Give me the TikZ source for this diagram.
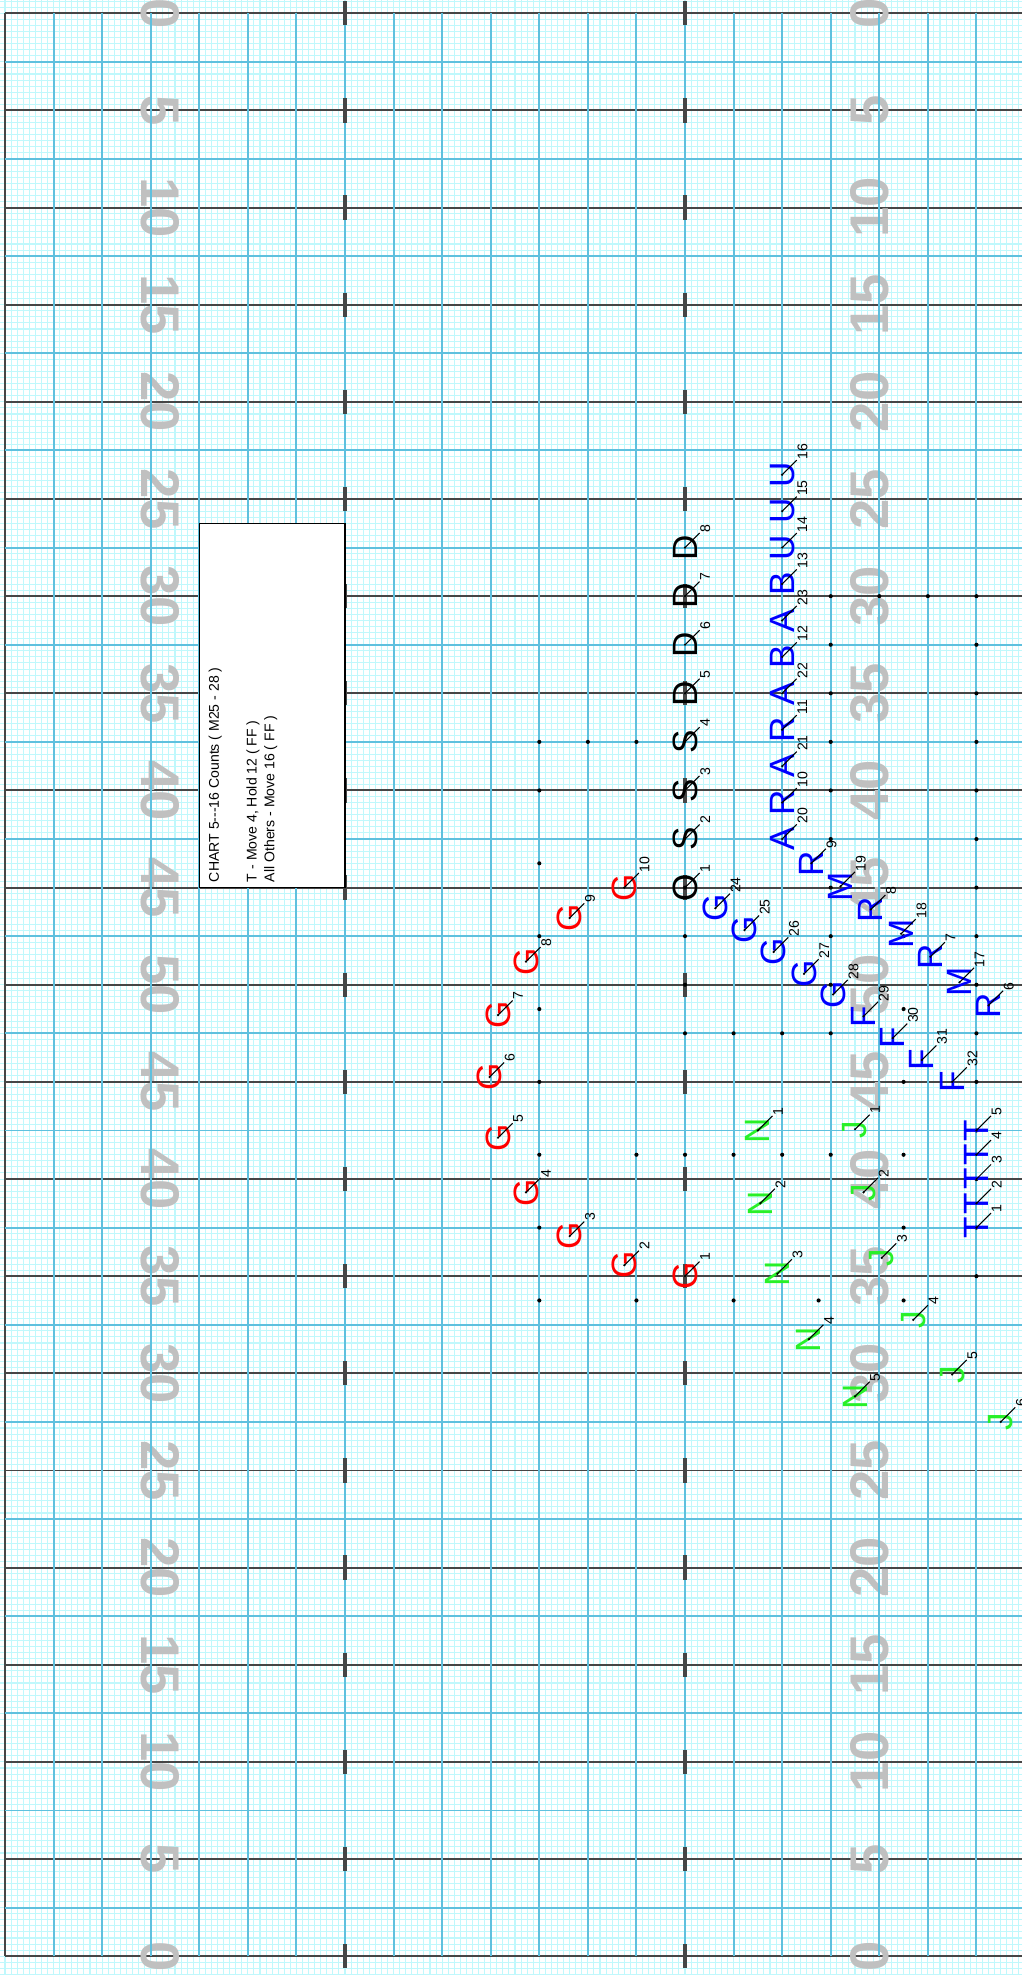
\documentclass[tikz,border=0pt]{standalone}
\usepackage{fontspec}
\newfontfamily\chartfont{Liberation Sans}
\usepackage{xcolor}
\usetikzlibrary{calc}
\definecolor{gridlight}{RGB}{192,248,252}
\definecolor{gridmid}{RGB}{95,192,222}
\definecolor{yardgray}{RGB}{70,70,70}
\definecolor{numgray}{RGB}{192,192,192}
\definecolor{drillred}{RGB}{255,0,0}
\definecolor{drillblue}{RGB}{0,0,255}
\definecolor{drillgreen}{RGB}{40,240,40}

\begin{document}
\begin{tikzpicture}[x=0.12143cm, y=-0.12143cm,
    gridlt/.style={draw=gridlight, line width=0.3pt},
    gridmd/.style={draw=gridmid, line width=0.55pt},
    yardln/.style={draw=yardgray, line width=0.55pt},
    hashmk/.style={draw=yardgray, line width=0.9pt},
    yardno/.style={font=\chartfont\bfseries\fontsize{15.5}{15.5}\selectfont, text=numgray, inner sep=0pt},
    legbox/.style={draw=black, fill=white, line width=0.4pt},
    legtxt/.style={font=\chartfont\fontsize{4}{5.1}\selectfont, align=left, inner sep=0pt, rotate=90, anchor=north west},
    marcher/.style={font=\chartfont\fontsize{10}{10}\selectfont, inner sep=0pt, rotate=90},
    subnum/.style={font=\chartfont\fontsize{4}{4}\selectfont, inner sep=0pt, rotate=90, anchor=north west},
    subline/.style={draw=black, line width=0.3pt},
    fielddot/.style={fill=black}
]
    \useasboundingbox (-0.412,-1.095) rectangle (83.67,161.55);

    % grid
    \foreach \i in {0,...,167} \draw[gridlt] (\i/2,-1.2) -- (\i/2,161.6);
    \foreach \j in {-2,...,323} \draw[gridlt] (-0.5,\j/2) -- (83.8,\j/2);
    \foreach \j in {0,...,20} \draw[yardln] (0,8*\j) -- (83.8,8*\j);
    \draw[yardln] (0,0) -- (0,160);

    \foreach \i in {0,...,20} {
        \pgfmathtruncatemacro\yd{5*min(\i,20-\i)}
        \node[yardno, rotate=-90] (ylft\i) at (12.8,8*\i) {\yd};
        \node[yardno, rotate=90] (yrgt\i) at (71.2,8*\i) {\yd};
    }

    \foreach \i in {1,...,20} \draw[gridmd] (4*\i,0) -- (4*\i,160);
    \foreach \j in {0,...,19} \draw[gridmd] (0,8*\j+4) -- (83.8,8*\j+4);
    \foreach \j in {0,...,20} {
        \draw[hashmk] (28,8*\j-1) -- (28,8*\j+1);
        \draw[hashmk] (56,8*\j-1) -- (56,8*\j+1);
    }

    % legend
    \draw[legbox] (16,42) rectangle (28,72);
    \node[legtxt] (legtext) at (16.72,71.6) {CHART 5---16 Counts ( M25 - 28 )\\[5.6pt]T - Move 4, Hold 12 ( FF )\\All Others - Move 16 ( FF )};

    % spots
    \foreach \px/\py in {44/60,48/60,52/60,44/64,44/70,44/76,44/82,44/88,44/94,44/100,44/106,
        52/94,52/106,56/72,56/76,56/80,56/84,56/94,60/84,60/94,60/106,64/84,64/94,67/106,
        68/48,68/52,68/56,68/60,68/64,68/68,68/72,68/76,68/80,68/84,68/94,72/48,76/48,
        74/76,74/82,74/88,74/94,74/100,74/106,
        80/48,80/52,80/56,80/60,80/64,80/68,80/72,80/76,80/80,80/84,80/88,80/92,80/96,80/100,80/104}
        \fill[fielddot] (\px,\py) circle (0.17);

    % marchers
    \foreach \lt/\num/\px/\py/\col in {O/1/56/72/black, S/2/56/68/black, S/3/56/64/black, S/4/56/60/black,
        D/5/56/56/black, D/6/56/52/black, D/7/56/48/black, D/8/56/44/black,
        G/1/56/104/drillred, G/2/51/103.1/drillred, G/3/46.5/100.7/drillred, G/4/42.9/97.1/drillred,
        G/5/40.6/92.6/drillred, G/6/39.9/87.6/drillred, G/7/40.6/82.5/drillred, G/8/42.9/78.1/drillred,
        G/9/46.5/74.5/drillred, G/10/51/72/drillred,
        A/20/64/68/drillblue, R/10/64/65/drillblue, A/21/64/62/drillblue, R/11/64/59/drillblue,
        A/22/64/56/drillblue, B/12/64/53/drillblue, A/23/64/50/drillblue, B/13/64/47/drillblue,
        U/14/64/44/drillblue, U/15/64/41/drillblue, U/16/64/38/drillblue,
        R/9/66.4/70/drillblue, M/19/68.8/71.9/drillblue, R/8/71.3/73.8/drillblue, M/18/73.8/75.8/drillblue,
        R/7/76.2/77.7/drillblue, M/17/78.6/79.8/drillblue, R/6/81/81.7/drillblue,
        G/24/58.5/73.7/drillblue, G/25/60.9/75.5/drillblue, G/26/63.3/77.3/drillblue, G/27/65.8/79.1/drillblue,
        G/28/68.2/80.8/drillblue, F/29/70.7/82.6/drillblue, F/30/73.1/84.4/drillblue, F/31/75.5/86.2/drillblue,
        F/32/78/88/drillblue,
        T/1/80/100/drillblue, T/2/80/98/drillblue, T/3/80/96/drillblue, T/4/80/94/drillblue, T/5/80/92/drillblue,
        N/1/62/92/drillgreen, N/2/62.2/98/drillgreen, N/3/63.6/103.8/drillgreen, N/4/66.2/109.2/drillgreen,
        N/5/70/113.9/drillgreen,
        J/1/70/91.9/drillgreen, J/2/70.7/97.1/drillgreen, J/3/72.2/102.5/drillgreen, J/4/74.8/107.6/drillgreen,
        J/5/78/112.1/drillgreen, J/6/82/116/drillgreen} {
        \node[marcher, text=\col] (\lt\num) at (\px,\py) {\lt};
        \node[subnum] (n\lt\num) at ($(\lt\num.center)+(1.2,-1.2)$) {\num};
        \draw[subline] (\lt\num.center) -- (n\lt\num.north west);
        \fill (\lt\num.center) circle (0.1);
    }
\end{tikzpicture}
\end{document}
